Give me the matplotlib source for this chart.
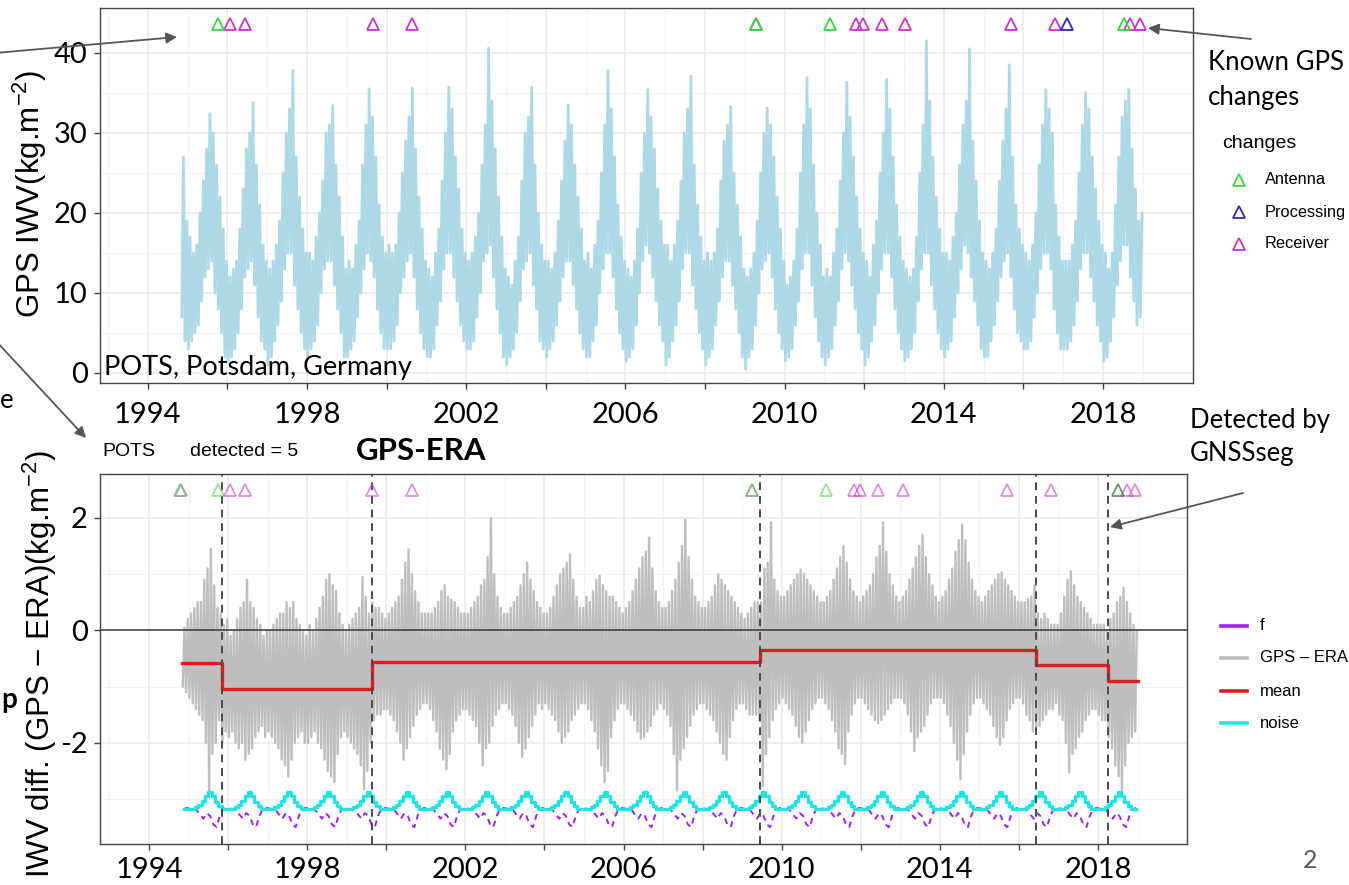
import numpy as np
import matplotlib.pyplot as plt
from matplotlib.lines import Line2D
from matplotlib.patches import FancyArrowPatch

W, H = 1349, 885

# GPS IWV at POTS: monthly low / high of the daily series, Nov 1994 - Dec 2018 (kg/m2)
iwv_low = [
    7, 4,
    3, 4, 5, 6, 9, 12, 13, 14, 10, 8, 5, 2,
    1.5, 2, 3, 5, 8, 12, 13, 14, 11, 7, 4, 3,
    1, 2, 4, 6, 9, 13, 15, 15, 11, 8, 5, 3,
    2, 3, 4, 6, 10, 13, 14, 14, 11, 8, 5, 2,
    2, 3, 4, 7, 10, 13, 15, 14, 12, 8, 5, 3,
    3, 3, 4, 6, 10, 12, 14, 15, 12, 8, 5, 3,
    2, 2, 3, 6, 9, 13, 15, 15, 12, 9, 6, 4,
    3, 3, 4, 7, 10, 14, 15, 16, 12, 8, 5, 2,
    1, 2, 3, 5, 9, 13, 14, 15, 11, 8, 4, 3,
    2, 3, 4, 6, 9, 12, 14, 14, 11, 8, 5, 3,
    2, 2, 4, 6, 10, 13, 15, 15, 12, 8, 5, 3,
    1.5, 2, 3, 6, 10, 14, 16, 15, 12, 9, 6, 4,
    1, 2, 4, 6, 9, 13, 15, 15, 11, 8, 5, 3,
    1, 2, 3, 6, 9, 12, 14, 14, 11, 8, 5, 2,
    0.5, 2, 3, 6, 10, 13, 14, 15, 12, 8, 5, 3,
    1.5, 2, 3, 6, 9, 13, 15, 15, 11, 7, 4, 2,
    1, 2, 3, 6, 9, 13, 15, 14, 11, 8, 5, 3,
    1, 2, 4, 6, 10, 13, 15, 15, 12, 8, 5, 3,
    1.5, 2, 3, 5, 9, 13, 15, 15, 11, 8, 5, 3,
    2, 3, 4, 7, 10, 13, 16, 15, 12, 9, 6, 3,
    2, 2, 4, 6, 9, 12, 14, 15, 12, 8, 5, 4,
    3, 3, 4, 7, 10, 13, 15, 15, 13, 8, 5, 3,
    3, 3, 4, 6, 9, 13, 15, 15, 12, 9, 6, 4,
    1.5, 2, 4, 7, 11, 14, 16, 16, 12, 9, 6, 7,
]
iwv_high = [
    27, 19,
    17, 15, 16, 20, 24, 28, 32.4, 30, 26, 22, 18, 14,
    12, 13, 14, 18, 23, 28, 30, 33.8, 26, 21, 16, 14,
    13, 14, 16, 19, 25, 30, 33, 37.8, 27, 22, 18, 15,
    15, 14, 17, 20, 24, 30, 31, 33.4, 26, 22, 17, 13,
    14, 13, 16, 19, 26, 31, 35.5, 32, 27, 21, 17, 15,
    16, 15, 16, 20, 25, 29, 32, 35.6, 28, 22, 18, 14,
    13, 12, 15, 18, 24, 30, 35.7, 33, 27, 23, 18, 15,
    14, 15, 17, 20, 26, 31, 40.6, 34, 28, 22, 17, 13,
    12, 11, 14, 17, 24, 30, 32, 35.7, 26, 20, 16, 14,
    14, 13, 15, 19, 24, 29, 33.5, 31, 26, 22, 18, 14,
    15, 13, 16, 19, 25, 31, 37.8, 33, 27, 21, 17, 14,
    13, 12, 14, 18, 25, 30, 35.4, 32, 28, 23, 19, 16,
    16, 14, 16, 19, 24, 30, 33, 37.1, 26, 21, 17, 14,
    15, 14, 15, 18, 24, 29, 31, 33.3, 25, 21, 17, 13,
    12, 13, 15, 19, 25, 30, 33.1, 31, 27, 22, 18, 14,
    11, 12, 14, 18, 25, 31, 36.9, 33, 26, 20, 16, 12,
    13, 12, 15, 18, 24, 30, 36.3, 32, 27, 22, 18, 15,
    14, 12, 16, 19, 25, 30, 36.7, 33, 27, 21, 17, 14,
    13, 12, 13, 17, 25, 31, 41.5, 34, 27, 22, 18, 15,
    15, 14, 17, 20, 26, 31, 34, 40.5, 29, 24, 19, 15,
    14, 13, 15, 18, 24, 29, 33, 38.5, 27, 21, 18, 16,
    15, 14, 16, 20, 26, 31, 35.4, 33, 30, 21, 17, 14,
    14, 14, 16, 19, 25, 31, 35, 33, 27, 23, 19, 16,
    15, 13, 15, 21, 27, 32, 34, 35.4, 28, 23, 19, 20,
]

# GPS - ERA difference: monthly low / high, same months
diff_low = [
    -1.0, -1.1,
    -1.2, -1.3, -1.4, -1.5, -1.6, -2.0, -2.9, -2.2, -2.0, -1.6, -2.0, -1.8,
    -1.9, -1.8, -2.0, -2.1, -2.0, -2.3, -2.2, -2.1, -1.9, -1.8, -1.7, -1.9,
    -1.8, -1.9, -2.0, -2.1, -2.3, -2.4, -2.6, -2.3, -2.0, -1.9, -1.8, -2.0,
    -2.0, -1.9, -1.8, -2.0, -2.1, -2.3, -2.5, -2.6, -2.7, -2.2, -1.9, -1.8,
    -1.9, -2.0, -2.1, -2.2, -2.4, -2.83, -2.5, -2.0, -1.6, -1.5, -1.5, -1.4,
    -1.4, -1.5, -1.6, -1.8, -2.0, -2.3, -2.1, -1.9, -1.7, -1.5, -1.4, -1.3,
    -1.3, -1.4, -1.6, -1.8, -2.1, -2.3, -2.47, -2.2, -1.8, -1.6, -1.5, -1.4,
    -1.4, -1.5, -1.6, -1.7, -2.0, -2.4, -2.1, -2.0, -1.7, -1.5, -1.4, -1.3,
    -1.3, -1.4, -1.5, -1.7, -2.0, -2.25, -2.1, -1.9, -1.7, -1.5, -1.3, -1.4,
    -1.3, -1.4, -1.5, -1.6, -1.8, -2.0, -1.9, -1.8, -1.6, -1.5, -1.4, -1.3,
    -1.3, -1.4, -1.6, -1.8, -2.1, -2.4, -2.7, -2.5, -1.9, -1.6, -1.4, -1.3,
    -1.3, -1.4, -1.5, -1.6, -1.8, -1.93, -1.9, -1.8, -1.7, -1.5, -1.4, -1.3,
    -1.4, -1.5, -1.7, -2.2, -2.85, -2.3, -2.1, -1.9, -1.7, -1.5, -1.4, -1.3,
    -1.3, -1.4, -1.5, -1.6, -1.8, -2.0, -2.2, -2.3, -1.9, -1.6, -1.4, -1.3,
    -1.3, -1.4, -1.5, -1.5, -1.5, -1.6, -2.77, -2.2, -1.9, -1.6, -1.4, -1.3,
    -1.2, -1.3, -1.4, -1.5, -1.7, -1.9, -2.0, -1.8, -1.6, -1.4, -1.3, -1.2,
    -1.2, -1.3, -1.4, -1.6, -1.8, -2.1, -2.2, -2.38, -1.8, -1.5, -1.3, -1.2,
    -1.2, -1.3, -1.4, -1.5, -1.6, -1.65, -1.6, -1.5, -1.4, -1.3, -1.2, -1.2,
    -1.2, -1.3, -1.5, -1.8, -2.15, -1.9, -1.8, -1.7, -1.5, -1.3, -1.2, -1.2,
    -1.2, -1.3, -1.5, -1.7, -2.0, -2.3, -2.65, -2.2, -1.8, -1.5, -1.3, -1.2,
    -1.2, -1.3, -1.4, -1.5, -1.7, -1.9, -2.03, -1.9, -1.6, -1.4, -1.3, -1.2,
    -1.2, -1.3, -1.5, -1.6, -1.8, -1.76, -1.7, -1.6, -1.5, -1.4, -1.4, -1.3,
    -1.5, -1.6, -2.0, -2.53, -2.2, -2.1, -1.9, -1.8, -1.6, -1.5, -1.4, -1.4,
    -1.5, -1.6, -1.6, -1.9, -2.1, -2.4, -2.6, -2.86, -2.4, -2.0, -1.9, -1.8,
]
diff_high = [
    0.05, 0.2,
    0.3, 0.4, 0.5, 0.5, 0.9, 1.1, 1.45, 0.8, 0.4, 0.3, 0.1, 0.2,
    -0.1, 0.0, 0.2, 0.4, 0.5, 0.9, 0.5, 0.4, 0.2, 0.1, -0.1, 0.0,
    0.0, 0.1, 0.2, 0.3, 0.3, 0.5, 0.4, 0.5, 0.2, 0.1, 0.0, -0.1,
    0.1, 0.0, 0.2, 0.4, 0.6, 0.9, 1.0, 0.8, 0.7, 0.3, 0.1, 0.0,
    0.1, 0.2, 0.3, 0.4, 0.95, 0.6, 0.3, 0.5, 0.4, 0.4, 0.3, 0.2,
    0.3, 0.4, 0.5, 0.6, 0.9, 1.2, 1.44, 1.0, 0.7, 0.5, 0.3, 0.3,
    0.3, 0.3, 0.4, 0.5, 0.7, 0.8, 0.6, 0.55, 0.5, 0.4, 0.3, 0.3,
    0.3, 0.4, 0.5, 0.6, 0.8, 0.9, 1.3, 2.0, 1.0, 0.6, 0.4, 0.3,
    0.3, 0.4, 0.5, 0.6, 0.8, 1.0, 1.2, 0.9, 0.7, 0.5, 0.4, 0.3,
    0.3, 0.4, 0.6, 0.8, 1.0, 1.1, 1.2, 1.35, 0.9, 0.6, 0.4, 0.4,
    0.6, 0.5, 0.7, 0.9, 0.97, 0.8, 0.7, 0.6, 0.6, 0.5, 0.4, 0.3,
    0.4, 0.5, 0.7, 0.9, 1.1, 1.3, 1.4, 1.65, 1.1, 0.7, 0.5, 0.4,
    0.4, 0.5, 0.7, 0.9, 1.2, 1.5, 1.97, 1.3, 0.9, 0.6, 0.5, 0.4,
    0.4, 0.5, 0.6, 0.8, 1.0, 0.9, 0.8, 0.7, 0.6, 0.5, 0.4, 0.3,
    0.2, 0.3, 0.4, 0.5, 0.5, 0.5, 1.1, 1.2, 1.92, 0.9, 0.7, 0.6,
    0.6, 0.7, 0.8, 0.9, 1.0, 1.08, 1.0, 0.9, 0.8, 0.7, 0.6, 0.5,
    0.5, 0.6, 0.7, 0.9, 1.1, 1.3, 1.5, 1.2, 0.9, 0.7, 0.6, 0.5,
    0.6, 0.7, 0.8, 1.0, 1.3, 1.5, 1.92, 1.4, 1.0, 0.8, 0.6, 0.5,
    0.6, 0.7, 0.9, 1.1, 1.3, 1.5, 1.7, 1.3, 1.0, 0.8, 0.6, 0.5,
    0.6, 0.7, 0.9, 1.1, 1.4, 1.6, 1.88, 1.6, 1.2, 0.9, 0.7, 0.6,
    0.5, 0.6, 0.7, 0.8, 0.9, 1.0, 1.03, 0.9, 0.8, 0.7, 0.6, 0.5,
    0.5, 0.5, 0.55, 0.6, 0.8, 0.3, 0.2, 0.3, 0.2, 0.1, 0.1, 0.1,
    0.3, 0.6, 0.9, 1.05, 0.8, 0.6, 0.5, 0.4, 0.3, 0.2, 0.1, 0.1,
    0.1, 0.1, 0.0, 0.2, 0.3, 0.5, 0.6, 0.76, 0.5, 0.3, 0.1, 0.0,
]

# monthly noise std and seasonal function f (Jan..Dec), drawn at the bottom of the panel
noise_month = [-3.18, -3.18, -3.15, -3.10, -3.03, -2.95, -2.88, -2.95, -3.05, -3.13, -3.17, -3.18]
f_month = [-3.17, -3.18, -3.20, -3.28, -3.35, -3.25, -3.30, -3.45, -3.50, -3.30, -3.18, -3.16]

# segmentation result
breaks = [1995.85, 1999.64, 2009.45, 2016.43, 2018.25]
seg_start = [1994.83, 1995.85, 1999.64, 2009.45, 2016.43, 2018.25]
seg_end = 2019.0
seg_mean = [-0.59, -1.05, -0.56, -0.35, -0.62, -0.90]

# metadata: known equipment changes
antenna_top = [1995.76, 2009.28, 2011.13, 2018.52]
processing_top = [2017.09]
receiver_top = [1996.06, 1996.44, 1999.65, 2000.65, 2009.28, 2011.80, 2011.96,
                2012.44, 2013.02, 2015.70, 2016.80, 2018.67, 2018.92]
antenna_bot = [1994.78, 1995.75, 2009.25, 2011.12, 2018.51]
processing_bot = [2018.51]
receiver_bot = [1994.80, 1996.05, 1996.43, 1999.64, 2000.65, 2009.25, 2011.83, 2011.98,
                2012.44, 2013.07, 2015.70, 2016.81, 2018.73, 2018.94]

year_ticks = list(range(1994, 2020, 2))
year_labels = [str(y) if (y - 1994) % 4 == 0 else '' for y in year_ticks]

C_ANT, C_PROC, C_REC = '#3fd43f', '#2a2ab0', '#cc33cc'

plt.rcParams['font.family'] = ['Lato', 'DejaVu Sans']
plt.rcParams['mathtext.fontset'] = 'custom'
plt.rcParams['mathtext.rm'] = 'Liberation Sans'
plt.rcParams['mathtext.it'] = 'Liberation Sans'
GG = ['Liberation Sans', 'DejaVu Sans']


def fp(x, y):
    # image pixel -> figure fraction
    return x / W, 1 - y / H


def zigzag(low, high):
    n = len(low)
    m = np.arange(n)
    t0 = 1994 + 10 / 12
    t = np.empty(2 * n)
    v = np.empty(2 * n)
    t[0::2] = t0 + (m + 0.25) / 12
    t[1::2] = t0 + (m + 0.75) / 12
    v[0::2] = low
    v[1::2] = high
    return t, v


def style_axes(ax, xpad):
    ax.set_xticks(year_ticks)
    ax.set_xticklabels(year_labels)
    ax.set_xticks(range(1993, 2021, 2), minor=True)
    ax.grid(which='major', color='#ebebeb', lw=1.2)
    ax.grid(which='minor', color='#f3f3f3', lw=0.7)
    ax.set_axisbelow(True)
    for s in ax.spines.values():
        s.set_color('#444444')
        s.set_linewidth(1.0)
    ax.tick_params(which='major', length=4, width=1, color='#444444',
                   labelsize=21, pad=5)
    ax.tick_params(axis='x', which='major', pad=xpad)
    ax.tick_params(which='minor', length=0)


fig = plt.figure(figsize=(W / 100, H / 100), dpi=100)

# ---- top panel: GPS IWV
ax1 = fig.add_axes([100 / W, 1 - 383 / H, 1093 / W, 375 / H])
t, v = zigzag(iwv_low, iwv_high)
ax1.plot(t, v, color='#add8e6', lw=2.0)
ax1.set_xlim(1992.8, 2020.26)
ax1.set_ylim(-1.25, 45.6)
ax1.set_yticks([0, 10, 20, 30, 40])
ax1.set_yticks([5, 15, 25, 35], minor=True)
style_axes(ax1, 10)
mk = dict(marker='^', ms=8, mfc='none', mew=1.3, ls='none')
ax1.plot(receiver_top, [43.6] * len(receiver_top), color=C_REC, **mk)
ax1.plot(antenna_top, [43.6] * len(antenna_top), color=C_ANT, **mk)
ax1.plot(processing_top, [43.6] * len(processing_top), color=C_PROC, **mk)

# ---- bottom panel: GPS - ERA
ax2 = fig.add_axes([100 / W, 1 - 844 / H, 1087 / W, 370 / H])
t, v = zigzag(diff_low, diff_high)
ax2.plot(t, v, color='#bebebe', lw=1.7)
ax2.axhline(0, color='#3a3a3a', lw=1.1)
ax2.step(seg_start + [seg_end], seg_mean + [seg_mean[-1]], where='post',
         color='#e41a1c', lw=2.4)
months = np.arange(len(diff_low))
tm = 1994 + 10 / 12 + (months + 0.5) / 12
cal = (10 + months) % 12
ax2.plot(tm, np.array(f_month)[cal], color='#a020f0', lw=1.4, ls=(0, (3, 2.5)))
ax2.plot(tm, np.array(noise_month)[cal], color='#22e3e3', lw=2.4,
         drawstyle='steps-mid')
for b in breaks:
    ax2.axvline(b, color='#4a4a4a', lw=1.4, ls=(0, (4, 3)))
ax2.set_xlim(1992.76, 2020.25)
ax2.set_ylim(-3.8, 2.78)
ax2.set_yticks([-2, 0, 2])
ax2.set_yticklabels(['-2', '0', '2'])
ax2.set_yticks([-3, -1, 1], minor=True)
style_axes(ax2, 5)
mk2 = dict(marker='^', ms=8, mfc='none', mew=1.2, ls='none', alpha=0.6)
ax2.plot(receiver_bot, [2.5] * len(receiver_bot), color=C_REC, **mk2)
ax2.plot(antenna_bot, [2.5] * len(antenna_bot), color=C_ANT, **mk2)
ax2.plot(processing_bot, [2.5] * len(processing_bot), color='#555555', **mk2)

# ---- axis titles and panel texts
fig.text(*fp(30, 194), 'GPS IWV(kg.m$^{-2}$)', rotation=90, ha='center',
         va='center', fontsize=22.5, family=GG)
fig.text(*fp(40, 664), 'IWV diff. (GPS $-$ ERA)(kg.m$^{-2}$)', rotation=90,
         ha='center', va='center', fontsize=22.5, family=GG)
fig.text(*fp(104, 368), 'POTS, Potsdam, Germany', ha='left', va='center', fontsize=19.5)
fig.text(*fp(102, 452), 'POTS', ha='left', va='center', fontsize=14, family=GG)
fig.text(*fp(190, 452), 'detected = 5', ha='left', va='center', fontsize=14, family=GG)
fig.text(*fp(356, 451), 'GPS-ERA', ha='left', va='center', fontsize=22.5, weight='bold')

# ---- legend: changes
fig.text(*fp(1222, 144), 'changes', ha='left', va='center', fontsize=14, family=GG)
for lab, col, y in [('Antenna', C_ANT, 180), ('Processing', C_PROC, 212),
                    ('Receiver', C_REC, 244)]:
    fig.add_artist(Line2D([1239 / W], [1 - y / H], marker='^', ms=8, mfc='none',
                          mew=1.3, color=col, transform=fig.transFigure))
    fig.text(*fp(1265, y), lab, ha='left', va='center', fontsize=11.8, family=GG)

# ---- legend: series
for lab, col, y in [('f', '#a020f0', 626), ('GPS \u2013 ERA', '#bebebe', 658),
                    ('mean', '#e41a1c', 691), ('noise', '#22e3e3', 723)]:
    fig.add_artist(Line2D([1221 / W, 1247 / W], [1 - y / H] * 2, color=col, lw=2.6,
                          transform=fig.transFigure))
    fig.text(*fp(1260, y), lab, ha='left', va='center', fontsize=12, family=GG)

# ---- slide annotations
fig.text(*fp(1208, 62), 'Known GPS', ha='left', va='center', fontsize=18.5)
fig.text(*fp(1208, 97), 'changes', ha='left', va='center', fontsize=18.5)
fig.text(*fp(1190, 420), 'Detected by', ha='left', va='center', fontsize=18.5)
fig.text(*fp(1190, 454), 'GNSSseg', ha='left', va='center', fontsize=18.5)
fig.text(*fp(0, 400), 'e', ha='left', va='center', fontsize=18.5)
fig.text(*fp(1, 700), 'p', ha='left', va='center', fontsize=20, weight='bold')
fig.text(*fp(1310, 860), '2', ha='center', va='center', fontsize=18, color='#595959')

for (x0, y0), (x1, y1) in [((-5, 53), (177, 37)), ((-5, 340), (86, 438)),
                           ((1251, 39), (1148, 28)), ((1243, 493), (1110, 527))]:
    fig.add_artist(FancyArrowPatch(fp(x0, y0), fp(x1, y1), transform=fig.transFigure,
                                   arrowstyle='-|>', color='#555555', lw=1.3,
                                   mutation_scale=16, shrinkA=0, shrinkB=0, zorder=5))

fig.savefig('out.png', dpi=100)
